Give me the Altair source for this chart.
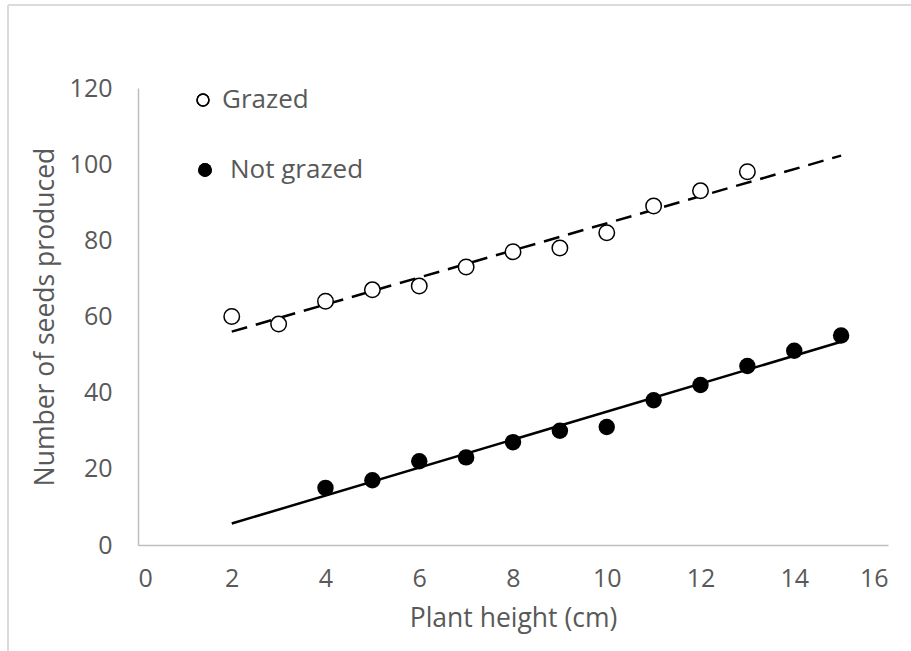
import altair as alt
import pandas as pd

grazed_x = [2, 3, 4, 5, 6, 7, 8, 9, 10, 11, 12, 13]
grazed_y = [60, 58, 64, 67, 68, 73, 77, 78, 82, 89, 93, 98]
notgrazed_x = [4, 5, 6, 7, 8, 9, 10, 11, 12, 13, 14, 15]
notgrazed_y = [15, 17, 22, 23, 27, 30, 31, 38, 42, 47, 51, 55]
x_ticks = [0, 2, 4, 6, 8, 10, 12, 14, 16]
y_ticks = [0, 20, 40, 60, 80, 100, 120]

FONT = "Open Sans"
GREY = "#595959"

g = pd.DataFrame({"x": grazed_x, "y": grazed_y})
n = pd.DataFrame({"x": notgrazed_x, "y": notgrazed_y})

xs = alt.X("x:Q", scale=alt.Scale(domain=[0, 16], nice=False),
           axis=alt.Axis(values=x_ticks, title="Plant height (cm)", grid=False, ticks=False,
                         domainColor="#bfbfbf", domainWidth=1.5, labelFont=FONT, labelFontSize=25,
                         labelColor=GREY, labelPadding=21, titleFont=FONT, titleFontSize=26.5,
                         titleFontWeight="normal", titleColor=GREY, titlePadding=14))
ys = alt.Y("y:Q", scale=alt.Scale(domain=[0, 120], nice=False),
           axis=alt.Axis(values=y_ticks, title="Number of seeds produced", grid=False, ticks=False,
                         domainColor="#bfbfbf", domainWidth=1.5, labelFont=FONT, labelFontSize=25,
                         labelColor=GREY, labelPadding=26, titleFont=FONT, titleFontSize=26.5,
                         titleFontWeight="normal", titleColor=GREY, titlePadding=10))

g_line = alt.Chart(g).transform_regression("x", "y", extent=[2, 15]).mark_line(
    color="black", strokeWidth=2.5, strokeDash=[16, 9]).encode(x=xs, y=ys)
n_line = alt.Chart(n).transform_regression("x", "y", extent=[2, 15]).mark_line(
    color="black", strokeWidth=2.5).encode(x=xs, y=ys)
g_pts = alt.Chart(g).mark_point(shape="circle", filled=False, fill="white", fillOpacity=1,
                                stroke="black", strokeWidth=1.5, size=240, opacity=1).encode(x=xs, y=ys)
n_pts = alt.Chart(n).mark_circle(color="black", size=270, opacity=1).encode(x=xs, y=ys)

leg = pd.DataFrame({"label": ["Grazed", "Not grazed"]})
leg_g_sym = alt.Chart(leg).mark_point(shape="circle", filled=False, stroke="black", strokeWidth=1.5,
                                      size=140, opacity=1).encode(x=alt.value(65), y=alt.value(12))
leg_n_sym = alt.Chart(leg).mark_circle(color="black", size=190, opacity=1).encode(
    x=alt.value(67), y=alt.value(82))
leg_g_txt = alt.Chart(leg).transform_filter(alt.datum.label == "Grazed").mark_text(
    align="left", baseline="middle", font=FONT, fontSize=26, color=GREY).encode(
    x=alt.value(84), y=alt.value(12), text="label:N")
leg_n_txt = alt.Chart(leg).transform_filter(alt.datum.label == "Not grazed").mark_text(
    align="left", baseline="middle", font=FONT, fontSize=26, color=GREY).encode(
    x=alt.value(92), y=alt.value(82), text="label:N")

frame_left = alt.Chart(leg).mark_rule(color="#d9d9d9", strokeWidth=1.5).encode(
    x=alt.value(-130), y=alt.value(-83), y2=alt.value(563))
frame_top = alt.Chart(leg).mark_rule(color="#d9d9d9", strokeWidth=1.5).encode(
    x=alt.value(-130), x2=alt.value(773), y=alt.value(-83))

chart = alt.layer(frame_left, frame_top, g_line, n_line, g_pts, n_pts,
                  leg_g_sym, leg_n_sym, leg_g_txt, leg_n_txt).properties(
    width=750, height=457,
    autosize=alt.AutoSizeParams(type="none"),
    padding={"left": 138, "top": 88, "right": 23, "bottom": 106},
    background="white",
).configure_view(stroke=None)

chart.save("out.html", embed_options={"renderer": "svg", "actions": False})
